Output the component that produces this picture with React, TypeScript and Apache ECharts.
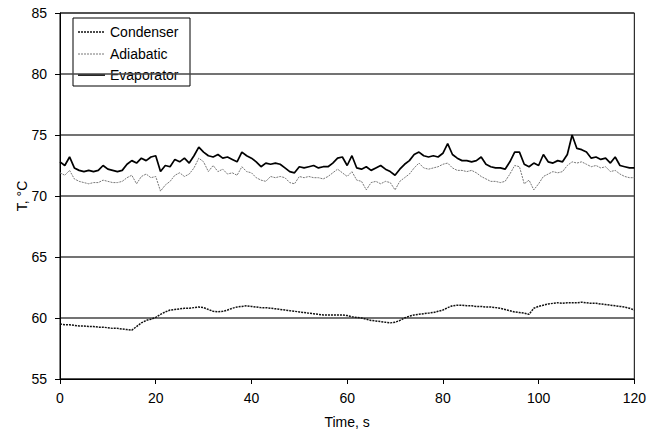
import React, { useEffect, useRef } from "react";
import * as echarts from "echarts";

const times: number[] = Array.from({ length: 121 }, (_, i) => i);

const evaporator: number[] = [
  72.8, 72.5, 73.2, 72.3, 72.1, 72.0, 72.1, 72.0, 72.1, 72.5,
  72.2, 72.1, 72.0, 72.1, 72.6, 72.9, 72.7, 73.1, 72.9, 73.2,
  73.3, 72.0, 72.5, 72.4, 73.0, 72.8, 73.1, 72.7, 73.3, 74.0,
  73.6, 73.3, 73.2, 73.4, 73.1, 73.2, 73.0, 72.8, 73.6, 73.3,
  73.1, 72.8, 72.4, 72.7, 72.6, 72.7, 72.6, 72.3, 72.0, 71.9,
  72.4, 72.3, 72.4, 72.5, 72.3, 72.4, 72.4, 72.7, 73.1, 73.2,
  72.5, 73.3, 72.3, 72.2, 72.4, 72.1, 72.3, 72.5, 72.2, 72.0,
  71.7, 72.2, 72.6, 72.9, 73.4, 73.6, 73.3, 73.2, 73.3, 73.2,
  73.5, 74.3, 73.4, 73.1, 72.9, 72.9, 72.8, 72.9, 73.2, 72.6,
  72.4, 72.3, 72.3, 72.2, 72.8, 73.6, 73.6, 72.6, 72.4, 72.7,
  72.5, 73.4, 72.8, 72.7, 72.9, 72.8, 73.4, 75.0, 73.9, 73.8,
  73.6, 73.1, 73.2, 73.0, 73.1, 72.7, 73.2, 72.5, 72.4, 72.3,
  72.3,
];

const adiabatic: number[] = [
  71.9, 71.7, 72.1, 71.4, 71.2, 71.1, 71.0, 71.1, 71.1, 71.3,
  71.2, 71.1, 71.1, 71.2, 71.5, 71.7, 71.0, 71.6, 71.8, 71.5,
  71.6, 70.4, 70.9, 71.2, 71.7, 71.9, 71.6, 71.8, 72.3, 73.1,
  72.8, 72.0, 72.5, 72.0, 72.2, 71.8, 71.9, 71.7, 72.4, 72.0,
  71.9, 71.5, 71.3, 71.2, 71.6, 71.5, 71.6, 71.5, 71.1, 71.0,
  71.6, 71.5, 71.6, 71.5, 71.5, 71.4, 71.6, 71.9, 72.2, 71.9,
  71.6, 72.0, 71.3, 71.2, 70.5, 71.1, 71.2, 71.0, 71.2, 71.1,
  70.5, 71.2, 71.5, 71.8, 72.3, 72.7, 72.3, 72.2, 72.3, 72.4,
  72.6, 72.7, 72.3, 72.1, 72.1, 72.0, 72.1, 71.9, 71.6, 71.4,
  71.2, 71.2, 71.1, 71.2, 71.8, 72.5, 72.4, 71.0, 71.3, 70.5,
  71.0, 71.6, 71.8, 72.0, 71.9, 72.0, 72.5, 72.8, 72.7, 72.8,
  72.6, 72.4, 72.5, 72.3, 72.4, 72.0, 72.1, 71.8, 71.6, 71.5,
  71.5,
];

const condenser: number[] = [
  59.5, 59.45, 59.45, 59.4, 59.35, 59.35, 59.3, 59.3, 59.25, 59.25,
  59.2, 59.15, 59.15, 59.1, 59.05, 59.0, 59.3, 59.6, 59.8, 59.9,
  60.05, 60.3, 60.5, 60.65, 60.7, 60.75, 60.8, 60.8, 60.85, 60.9,
  60.85, 60.7, 60.55, 60.5, 60.55, 60.65, 60.8, 60.9, 60.95, 61.0,
  60.95, 60.9, 60.85, 60.85, 60.8, 60.75, 60.7, 60.65, 60.6, 60.55,
  60.5, 60.45, 60.4, 60.35, 60.3, 60.25, 60.25, 60.25, 60.25, 60.25,
  60.2, 60.1, 60.05, 60.0, 59.9, 59.8, 59.75, 59.7, 59.65, 59.6,
  59.65, 59.8, 60.0, 60.15, 60.25, 60.3, 60.35, 60.4, 60.45, 60.55,
  60.65, 60.85, 61.0, 61.05, 61.05, 61.0, 61.0, 60.95, 60.95, 60.9,
  60.9, 60.85, 60.8, 60.7, 60.6, 60.5, 60.45, 60.4, 60.3, 60.8,
  60.95, 61.05, 61.15, 61.2, 61.25, 61.2, 61.25, 61.25, 61.25, 61.3,
  61.25, 61.2, 61.2, 61.15, 61.1, 61.05, 61.0, 60.95, 60.9, 60.8,
  60.65,
];

const seriesNames: string[] = ["Condenser", "Adiabatic", "Evaporator"];

const xTicks = { min: 0, max: 120, interval: 20 };
const yTicks = { min: 55, max: 85, interval: 5 };

const pair = (vals: number[]) => times.map((t, i) => [t, vals[i]]);

export default function App() {
  const ref = useRef<HTMLDivElement>(null);
  useEffect(() => {
    if (!ref.current) return;
    const chart = echarts.init(ref.current, null, { renderer: "svg" });
    const font = "Liberation Sans, Arial, sans-serif";
    const styles = [
      { color: "#111", width: 1.5, type: [2, 1] as number[] | string },
      { color: "#777", width: 1, type: [2, 1] as number[] | string },
      { color: "#000", width: 1.7, type: "solid" as number[] | string },
    ];
    const legendY = [32, 54, 75];
    const legendChildren: any[] = [
      {
        type: "rect",
        shape: { x: 73, y: 18, width: 117, height: 68 },
        style: { fill: "#fff", stroke: "#000", lineWidth: 1 },
      },
    ];
    seriesNames.forEach((n, i) => {
      const st = styles[i];
      legendChildren.push({
        type: "line",
        shape: { x1: 78, y1: legendY[i], x2: 105, y2: legendY[i] },
        style: {
          stroke: st.color,
          lineWidth: st.width,
          lineDash: Array.isArray(st.type) ? st.type : null,
        },
      });
      legendChildren.push({
        type: "text",
        x: 110,
        y: legendY[i],
        style: {
          text: n,
          fill: "#000",
          font: `14px ${font}`,
          verticalAlign: "middle",
          textAlign: "left",
        },
      });
    });
    chart.setOption({
      animation: false,
      backgroundColor: "#fff",
      textStyle: { fontFamily: font },
      grid: {
        left: 60,
        right: 13,
        top: 13,
        bottom: 64,
        show: true,
        borderColor: "#000",
        borderWidth: 1,
      },
      graphic: [{ type: "group", z: 100, children: legendChildren }],
      xAxis: {
        type: "value",
        min: xTicks.min,
        max: xTicks.max,
        interval: xTicks.interval,
        name: "Time, s",
        nameLocation: "middle",
        nameGap: 36,
        nameMoveOverlap: false,
        nameTextStyle: { fontSize: 14, color: "#000", fontFamily: font },
        axisLine: { lineStyle: { color: "#000", width: 1 } },
        axisTick: { show: true, length: 5, lineStyle: { color: "#000" } },
        axisLabel: { fontSize: 14, color: "#000", margin: 12, fontFamily: font },
        splitLine: { show: false },
      },
      yAxis: {
        type: "value",
        min: yTicks.min,
        max: yTicks.max,
        interval: yTicks.interval,
        name: "T, °C",
        nameLocation: "middle",
        nameGap: 31,
        nameMoveOverlap: false,
        nameTextStyle: { fontSize: 14, color: "#000", fontFamily: font },
        axisLine: { show: true, lineStyle: { color: "#000", width: 1 } },
        axisTick: { show: true, length: 5, lineStyle: { color: "#000" } },
        axisLabel: { fontSize: 14, color: "#000", margin: 13, fontFamily: font },
        splitLine: { show: true, lineStyle: { color: "#444", width: 1.5 } },
      },
      series: [condenser, adiabatic, evaporator].map((vals, i) => ({
        name: seriesNames[i],
        type: "line",
        symbol: "none",
        data: pair(vals),
        lineStyle: styles[i],
        itemStyle: { color: styles[i].color },
      })),
    });
    return () => chart.dispose();
  }, []);
  return (
    <div
      ref={ref}
      style={{ position: "fixed", left: 0, top: 0, width: 649, height: 443 }}
    />
  );
}
